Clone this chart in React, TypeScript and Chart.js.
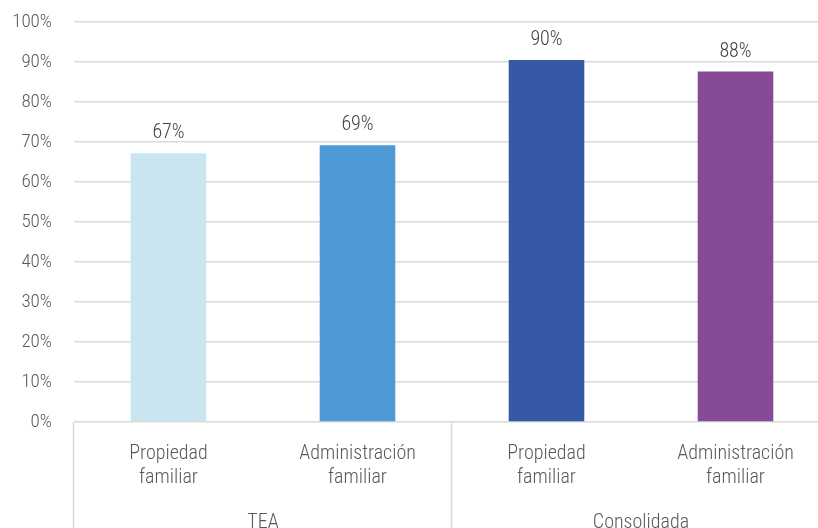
import React, { useEffect, useRef } from "react";
import { Chart, registerables } from "chart.js";

Chart.register(...registerables);

const categories: string[][] = [
  ["Propiedad", "familiar"],
  ["Administración", "familiar"],
  ["Propiedad", "familiar"],
  ["Administración", "familiar"],
];
const groups: string[] = ["TEA", "Consolidada"];
const values: number[] = [67.2, 69.2, 90.5, 87.6];
const valueLabels: string[] = ["67%", "69%", "90%", "88%"];
const barColors: string[] = ["#c9e6f0", "#4e9ad6", "#3758a5", "#874a94"];
const yTicks: number[] = [0, 10, 20, 30, 40, 50, 60, 70, 80, 90, 100];

const FONT = "'Roboto Condensed', 'Roboto', sans-serif";

const valueLabelPlugin = {
  id: "valueLabels",
  afterDatasetsDraw(chart: any) {
    const ctx = chart.ctx;
    const meta = chart.getDatasetMeta(0);
    ctx.save();
    ctx.font = `300 20px ${FONT}`;
    ctx.fillStyle = "#404040";
    ctx.textAlign = "center";
    ctx.textBaseline = "alphabetic";
    meta.data.forEach((bar: any, i: number) => {
      ctx.fillText(valueLabels[i], bar.x, bar.y - 15);
    });
    ctx.restore();
  },
};

const separatorPlugin = {
  id: "groupSeparators",
  afterDraw(chart: any) {
    const ctx = chart.ctx;
    const x = chart.scales.x;
    const half = (x.getPixelForValue(1) - x.getPixelForValue(0)) / 2;
    const bounds = [0, 2, 4].map((i) =>
      i < values.length ? x.getPixelForValue(i) - half : x.getPixelForValue(values.length - 1) + half
    );
    ctx.save();
    ctx.strokeStyle = "#d9d9d9";
    ctx.lineWidth = 1.5;
    bounds.forEach((bx: number) => {
      ctx.beginPath();
      ctx.moveTo(Math.round(bx) - 0.5, chart.chartArea.bottom);
      ctx.lineTo(Math.round(bx) - 0.5, chart.height);
      ctx.stroke();
    });
    ctx.restore();
  },
};

export default function App() {
  const ref = useRef<HTMLCanvasElement | null>(null);
  useEffect(() => {
    if (!ref.current) return;
    const chart = new Chart(ref.current, {
      type: "bar",
      data: {
        labels: categories,
        datasets: [
          {
            data: values,
            backgroundColor: barColors,
            barPercentage: 0.4,
            categoryPercentage: 1,
            xAxisID: "x",
          },
        ],
      },
      options: {
        animation: false,
        responsive: false,
        maintainAspectRatio: false,
        layout: { padding: { top: 22, right: 0, bottom: 0, left: 0 } },
        plugins: { legend: { display: false }, tooltip: { enabled: false } },
        scales: {
          x: {
            type: "category",
            position: "bottom",
            grid: { display: false, drawTicks: false },
            border: { display: false },
            ticks: {
              color: "#595959",
              font: { family: FONT, size: 20, weight: "300", lineHeight: 1.2 },
              padding: 20,
              maxRotation: 0,
              autoSkip: false,
            },
            afterFit: (s: any) => {
              s.height = 85;
              s.paddingLeft = 0;
              s.paddingRight = 0;
            },
          },
          x2: {
            type: "category",
            position: "bottom",
            labels: groups,
            offset: true,
            grid: { display: false, drawTicks: false },
            border: { display: false },
            ticks: {
              color: "#595959",
              font: { family: FONT, size: 20, weight: "300" },
              padding: 4,
              maxRotation: 0,
            },
            afterFit: (s: any) => {
              s.height = 33;
              s.paddingLeft = 0;
              s.paddingRight = 0;
            },
          },
          y: {
            min: 0,
            max: 100,
            afterBuildTicks: (s: any) => {
              s.ticks = yTicks.map((v) => ({ value: v }));
            },
            grid: { color: "#d9d9d9", lineWidth: 1.5, drawTicks: false },
            border: { display: false },
            ticks: {
              color: "#595959",
              font: { family: FONT, size: 19, weight: "300" },
              padding: 22,
              callback: (v: any) => `${v}%`,
            },
            afterFit: (s: any) => {
              s.width = 74;
              s.paddingTop = 0;
              s.paddingBottom = 0;
            },
          },
        },
      },
      plugins: [valueLabelPlugin, separatorPlugin],
    });
    return () => chart.destroy();
  }, []);
  return (
    <div style={{ position: "fixed", left: 0, top: 0, width: 818, height: 528, overflow: "hidden", background: "#fff" }}>
      <canvas ref={ref} width={830} height={540} style={{ width: 830, height: 540, display: "block" }} />
    </div>
  );
}
